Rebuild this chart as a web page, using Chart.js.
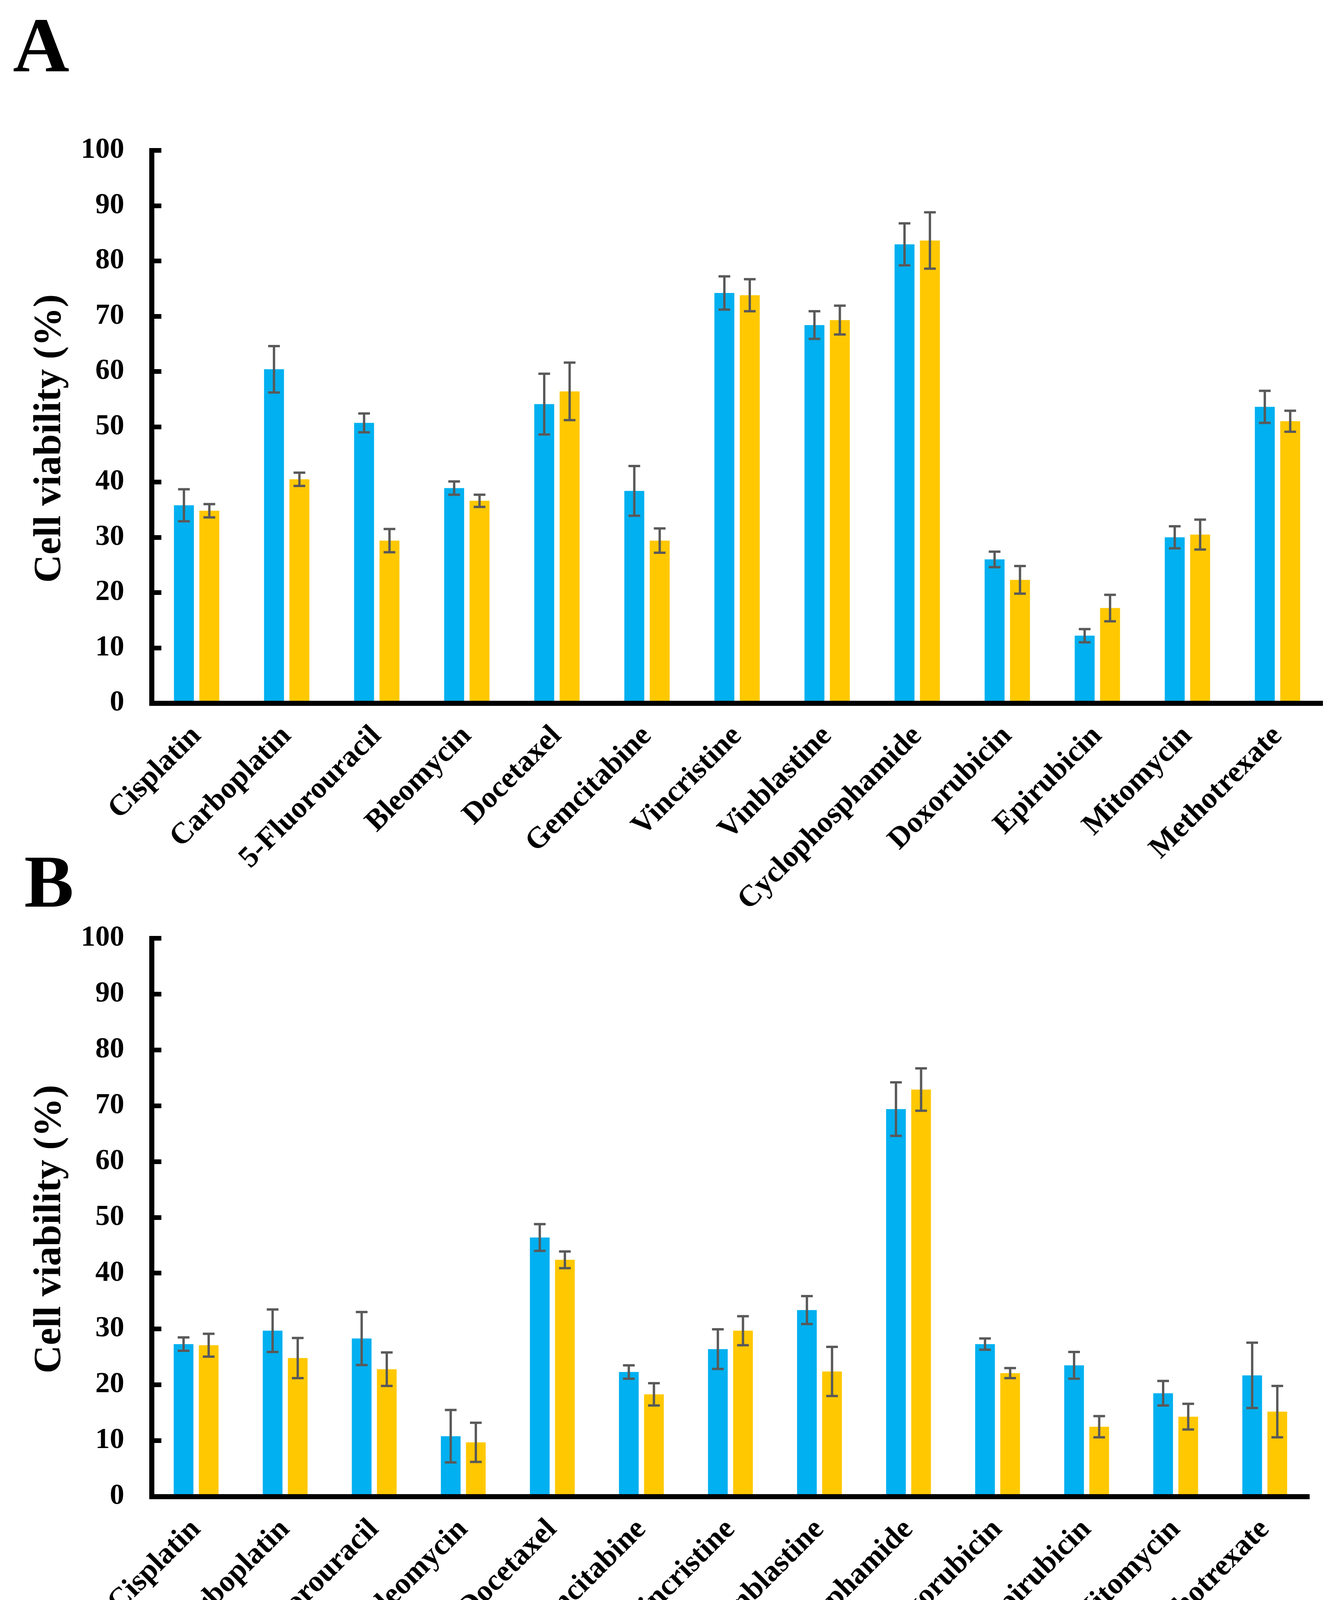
<!DOCTYPE html>
<html>
<head>
<meta charset="utf-8">
<script src="https://cdn.jsdelivr.net/npm/chart.js@4.4.1/dist/chart.umd.min.js"></script>
<style>
  body { margin: 0; background: #fff; }
  #page { position: relative; width: 3422px; height: 4561px; overflow: hidden; }
  canvas { position: absolute; left: 0; top: 0; }
  .panel { position: absolute; font-family: "Liberation Serif", serif; font-weight: bold; line-height: 1; }
  .leg { position: absolute; font-family: "Liberation Serif", serif; font-weight: bold; font-size: 78px; line-height: 78px; white-space: nowrap; }
  .swatch { position: absolute; }
</style>
</head>
<body>
<div id="page">
  <canvas id="chartA" width="3422" height="4561"></canvas>
  <canvas id="chartB" width="3422" height="4561"></canvas>
  <div class="panel" style="left:33px; top:16px; font-size:200px;">A</div>
  <div class="panel" style="left:62px; top:2162px; font-size:190px;">B</div>
  <div class="leg" style="left:1249px; top:4420px;">Without</div>
  <div class="swatch" style="left:1593px; top:4402px; width:137px; height:136px; background:#00B0F0;"></div>
  <div class="leg" style="left:1857px; top:4420px;">With AM [250 µg/mL]</div>
  <div class="swatch" style="left:2662px; top:4399px; width:136px; height:133px; background:#FFC800;"></div>
</div>
<script>
// drugs on the x axis (same for both panels)
var drugs = ['Cisplatin', 'Carboplatin', '5-Fluorouracil', 'Bleomycin', 'Docetaxel', 'Gemcitabine',
  'Vincristine', 'Vinblastine', 'Cyclophosphamide', 'Doxorubicin', 'Epirubicin', 'Mitomycin', 'Methotrexate'];

// panel A values (%) and error bars
var aWithout = [35.8, 60.4, 50.7, 38.9, 54.1, 38.4, 74.2, 68.4, 83.0, 26.0, 12.2, 30.0, 53.6];
var aWithoutErr = [2.9, 4.2, 1.7, 1.2, 5.5, 4.5, 3.0, 2.5, 3.8, 1.4, 1.2, 2.0, 2.9];
var aWith = [34.8, 40.5, 29.4, 36.6, 56.4, 29.4, 73.8, 69.3, 83.7, 22.3, 17.2, 30.5, 51.0];
var aWithErr = [1.2, 1.2, 2.1, 1.1, 5.2, 2.2, 2.9, 2.6, 5.1, 2.5, 2.4, 2.7, 1.9];

// panel B values (%) and error bars
var bWithout = [27.3, 29.7, 28.3, 10.8, 46.4, 22.3, 26.4, 33.4, 69.4, 27.3, 23.5, 18.5, 21.7];
var bWithoutErr = [1.2, 3.8, 4.75, 4.7, 2.4, 1.2, 3.55, 2.5, 4.8, 1.0, 2.4, 2.2, 5.85];
var bWith = [27.1, 24.8, 22.8, 9.7, 42.4, 18.3, 29.7, 22.4, 72.9, 22.1, 12.5, 14.3, 15.2];
var bWithErr = [2.05, 3.6, 3.0, 3.5, 1.5, 2.0, 2.6, 4.4, 3.8, 0.9, 1.9, 2.3, 4.6];

var seriesNames = ['Without', 'With AM [250 µg/mL]'];
var yTicks = [0, 10, 20, 30, 40, 50, 60, 70, 80, 90, 100];
var yTitle = 'Cell viability (%)';

Chart.defaults.font.family = '"Liberation Serif", serif';
Chart.defaults.font.weight = 'bold';
Chart.defaults.color = '#000';

// draws the +/- error bars on top of each bar
var errorBars = {
  id: 'errorBars',
  afterDatasetsDraw: function (chart) {
    var ctx = chart.ctx;
    var yScale = chart.scales.y;
    ctx.save();
    ctx.strokeStyle = '#595959';
    ctx.lineWidth = 6;
    chart.data.datasets.forEach(function (ds, i) {
      var meta = chart.getDatasetMeta(i);
      meta.data.forEach(function (bar, j) {
        var v = ds.data[j], e = ds.errors[j];
        var top = yScale.getPixelForValue(v + e);
        var bot = yScale.getPixelForValue(v - e);
        var x = bar.x, cap = 15;
        ctx.beginPath();
        ctx.moveTo(x, top); ctx.lineTo(x, bot);
        ctx.moveTo(x - cap, top); ctx.lineTo(x + cap, top);
        ctx.moveTo(x - cap, bot); ctx.lineTo(x + cap, bot);
        ctx.stroke();
      });
    });
    ctx.restore();
  }
};

// y axis title, sits a little below the middle of the axis like the original
var axisTitle = {
  id: 'axisTitle',
  afterDraw: function (chart) {
    var ctx = chart.ctx;
    var area = chart.chartArea;
    ctx.save();
    ctx.translate(128, (area.top + area.bottom) / 2 + 30);
    ctx.rotate(-Math.PI / 2);
    ctx.font = 'bold 100px "Liberation Serif", serif';
    ctx.fillStyle = '#000';
    ctx.textAlign = 'center';
    ctx.textBaseline = 'middle';
    ctx.fillText(yTitle, 0, 0);
    ctx.restore();
  }
};

function makeChart(id, without, withoutErr, withAM, withErr, top, bottom, rightPad) {
  var ctx = document.getElementById(id).getContext('2d');
  return new Chart(ctx, {
    type: 'bar',
    data: {
      labels: drugs,
      datasets: [{
        label: seriesNames[0],
        data: without,
        errors: withoutErr,
        backgroundColor: '#00B0F0',
        categoryPercentage: 0.564,
        barPercentage: 0.785
      }, {
        label: seriesNames[1],
        data: withAM,
        errors: withErr,
        backgroundColor: '#FFC800',
        categoryPercentage: 0.564,
        barPercentage: 0.785
      }]
    },
    options: {
      responsive: false,
      animation: false,
      devicePixelRatio: 1,
      layout: { padding: { top: top, right: rightPad, left: 0, bottom: 0 } },
      plugins: { legend: { display: false }, tooltip: { enabled: false } },
      scales: {
        x: {
          grid: { display: false, drawTicks: false },
          border: { display: true, color: '#000', width: 13 },
          ticks: { font: { size: 77, weight: 'bold' }, minRotation: 45, maxRotation: 45, padding: 40, autoSkip: false },
          afterFit: function (scale) { scale.height = 4561 - bottom; }
        },
        y: {
          min: 0,
          max: 100,
          afterBuildTicks: function (scale) { scale.ticks = yTicks.map(function (v) { return { value: v }; }); },
          grid: { drawOnChartArea: false, drawTicks: true, tickLength: -25, lineWidth: 12, color: '#000' },
          border: { display: true, color: '#000', width: 13 },
          ticks: { font: { size: 74, weight: 'bold' }, padding: 95 },
          afterFit: function (scale) { scale.width = 388; }
        }
      }
    },
    plugins: [errorBars, axisTitle]
  });
}

makeChart('chartA', aWithout, aWithoutErr, aWith, aWithErr, 385, 1800, 37);
makeChart('chartB', bWithout, bWithoutErr, bWith, bWithErr, 2402, 3831, 71);
</script>
</body>
</html>
